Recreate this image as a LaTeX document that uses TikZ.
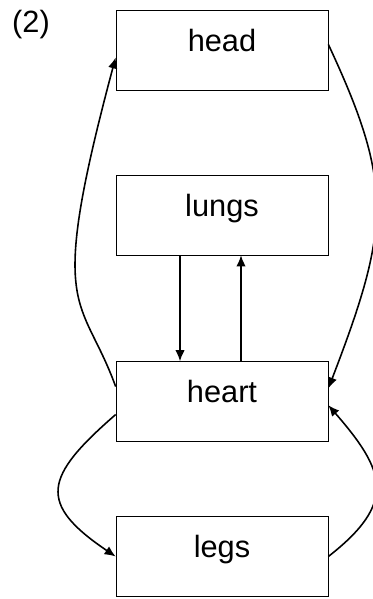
\documentclass[tikz,border=0pt]{standalone}
\usepackage{fontspec}
\setmainfont{Liberation Sans}
\usepackage{tikz}
\usetikzlibrary{arrows.meta}

\begin{document}
\begin{tikzpicture}[
    box/.style={draw, rectangle, minimum width=4.24cm, inner ysep=0pt, text height=0.82cm, text depth=0.78cm, align=center, font=\fontsize{17.5}{20}\selectfont},
    line/.style={draw, -{Latex[length=2.2mm, width=1.9mm]}, line width=0.9pt}
]
    \useasboundingbox (0,0) rectangle (7.46,-11.98);

    % Organs, top to bottom
    \node[font=\fontsize{17.5}{20}\selectfont] (num) at (0.62, -0.5) {(2)};

    \node[box] (head) at (4.44, -1.0) {head};
    \node[box] (lungs) at (4.44, -4.3) {lungs};
    \node[box] (heart) at (4.44, -8.03) {heart};
    \node[box] (legs) at (4.44, -11.13) {legs};

    % Lungs circuit
    \draw[line] ([xshift=-0.84cm]lungs.south) -- ([xshift=-0.84cm]heart.north);
    \draw[line] ([xshift=0.38cm]heart.north) -- ([xshift=0.38cm]lungs.south);

    % Head circuit
    \draw[line] (heart.172) to[out=110, in=-105, out distance=2cm, in distance=5.4cm] (head.184);
    \draw[line] (head.3) to[out=-65, in=69, out distance=3.1cm, in distance=3.45cm] (heart.7);

    % Legs circuit
    \draw[line] (heart.187) to[out=-139, in=146, out distance=1.9cm, in distance=1.9cm] (legs.west);
    \draw[line] (legs.east) to[out=38, in=-49, out distance=1.75cm, in distance=1.75cm] (heart.-2);

\end{tikzpicture}
\end{document}
